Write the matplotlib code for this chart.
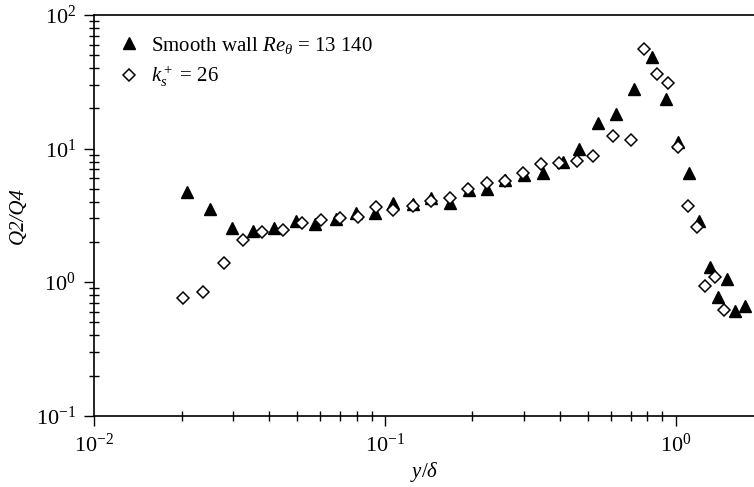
import matplotlib
matplotlib.use('Agg')
import matplotlib.pyplot as plt
from matplotlib.ticker import LogLocator, NullFormatter

plt.rcParams['font.family'] = ['Liberation Serif', 'DejaVu Serif']
plt.rcParams['mathtext.fontset'] = 'custom'
plt.rcParams['mathtext.rm'] = 'Liberation Serif'
plt.rcParams['mathtext.it'] = 'Liberation Serif:italic'

# Smooth wall, Re_theta = 13 140
smooth_y = [0.0209, 0.0250, 0.0299, 0.0352, 0.0417, 0.0493, 0.0577, 0.0677, 0.0793,
            0.0924, 0.107, 0.125, 0.1445, 0.1675, 0.194, 0.225, 0.259, 0.301, 0.349,
            0.409, 0.466, 0.540, 0.624, 0.721, 0.828, 0.928, 1.018, 1.116, 1.208,
            1.308, 1.398, 1.501, 1.603, 1.726]
smooth_q = [4.75, 3.51, 2.53, 2.40, 2.54, 2.87, 2.72, 2.95, 3.31,
            3.31, 3.89, 3.83, 4.24, 3.93, 4.90, 4.96, 5.82, 6.34, 6.60,
            7.97, 9.87, 15.6, 18.1, 27.8, 48.2, 23.4, 11.3, 6.53, 2.88,
            1.29, 0.778, 1.05, 0.611, 0.663]

# Rough wall, k_s+ = 26
rough_y = [0.0203, 0.0237, 0.0280, 0.0325, 0.0379, 0.0446, 0.0517, 0.0601, 0.0700,
           0.0807, 0.0929, 0.107, 0.125, 0.1445, 0.167, 0.193, 0.224, 0.258, 0.299,
           0.344, 0.398, 0.457, 0.520, 0.608, 0.703, 0.781, 0.864, 0.945, 1.018,
           1.102, 1.183, 1.264, 1.361, 1.461]
rough_q = [0.757, 0.848, 1.40, 2.07, 2.39, 2.46, 2.79, 2.92, 3.04,
           3.09, 3.67, 3.47, 3.72, 4.05, 4.24, 4.96, 5.50, 5.75, 6.53,
           7.66, 7.84, 8.07, 8.80, 12.4, 11.7, 55.4, 36.0, 30.8, 10.2,
           3.72, 2.60, 0.936, 1.087, 0.619]

fig = plt.figure(figsize=(7.54, 4.87), dpi=100)
ax = fig.add_axes([0.1247, 0.1464, 0.8753, 0.8226])

ax.plot(smooth_y, smooth_q, linestyle='none', marker='^', markersize=9,
        color='black', label=r'Smooth wall $Re_\theta$ = 13 140')
ax.plot(rough_y, rough_q, linestyle='none', marker='D', markersize=6.5,
        markerfacecolor='white', markeredgecolor='black', markeredgewidth=1.1,
        label=r'$k_s^+$ = 26')

ax.set_xscale('log')
ax.set_yscale('log')
ax.set_xlim(0.01, 1.86)
ax.set_ylim(0.1, 100)

ax.xaxis.set_minor_locator(LogLocator(base=10, subs=range(2, 10)))
ax.yaxis.set_minor_locator(LogLocator(base=10, subs=range(2, 10)))
ax.xaxis.set_minor_formatter(NullFormatter())
ax.yaxis.set_minor_formatter(NullFormatter())
ax.tick_params(which='major', direction='out', length=7, width=1, labelsize=16, pad=6)
ax.tick_params(which='minor', direction='inout', length=7, width=1)

ax.spines['right'].set_visible(False)
for s in ['left', 'bottom', 'top']:
    ax.spines[s].set_linewidth(1.2)

ax.set_xlabel(r'$y/\delta$', fontsize=15, labelpad=2)
ax.set_ylabel('Q2/Q4', fontsize=15, style='italic', labelpad=6)

ax.legend(loc='upper left', bbox_to_anchor=(0.022, 0.972), frameon=False,
          fontsize=15, handletextpad=0.45, labelspacing=0.42, borderaxespad=0,
          handlelength=1.2)

fig.savefig('out.png', dpi=100)
